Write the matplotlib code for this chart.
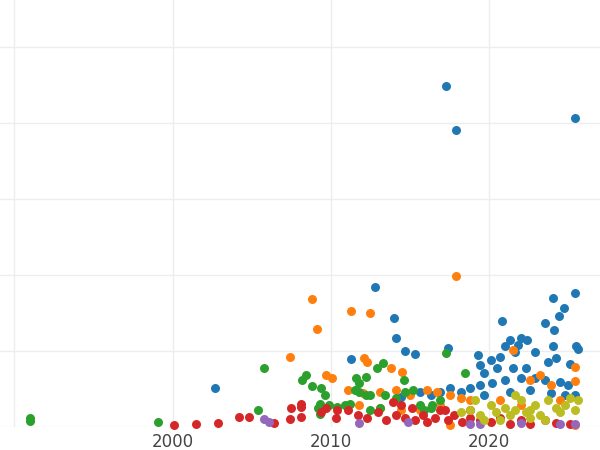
import matplotlib
matplotlib.use("Agg")
import matplotlib.pyplot as plt

blue_x = [2002.7,2017.3,2017.9,2025.4,2012.8,2014.0,2014.1,2011.3,2014.7,2015.3,2017.4,2020.8,2024.0,2025.4,2024.7,2024.4,2024.1,2023.5,2025.5,2025.6,2021.0,2021.3,2022.0,2022.4,2021.8,2019.3,2020.1,2020.7,2021.6,2022.9,2024.0,2024.2,2025.1,2019.4,2019.7,2020.5,2021.5,2022.3,2023.7,2018.2,2017.5,2018.8,2019.4,2020.2,2021.0,2022.0,2022.9,2023.5,2024.5,2025.0,2014.4,2015.6,2016.3,2016.9,2019.7,2021.3,2022.6,2023.9,2024.8,2025.4]
blue_y = [0.51,4.49,3.91,4.07,1.84,1.43,1.17,0.89,1.00,0.96,1.04,1.39,1.70,1.76,1.57,1.46,1.28,1.37,1.07,1.03,1.07,1.14,1.17,1.14,1.08,0.95,0.88,0.92,0.99,0.99,1.07,0.91,0.83,0.82,0.71,0.78,0.78,0.78,0.86,0.46,0.51,0.51,0.55,0.58,0.62,0.64,0.64,0.62,0.59,0.55,0.39,0.46,0.42,0.46,0.42,0.46,0.49,0.45,0.42,0.42]

orange_x = [2008.8,2009.1,2007.4,2009.7,2011.3,2012.5,2017.9,2012.1,2012.3,2013.8,2014.5,2011.1,2012.0,2013.1,2014.1,2015.0,2016.1,2016.7,2017.5,2018.2,2018.8,2021.5,2025.4,2025.4,2023.9,2023.2,2022.6,2020.7,2022.0,2024.5,2025.4,2017.5,2016.9,2015.6,2014.4,2013.1,2011.8,2010.1]
orange_y = [1.68,1.29,0.92,0.68,1.53,1.50,1.99,0.91,0.86,0.78,0.72,0.49,0.45,0.46,0.49,0.42,0.49,0.46,0.42,0.38,0.36,1.01,0.79,0.61,0.55,0.68,0.62,0.36,0.29,0.36,0.03,0.03,0.29,0.22,0.22,0.25,0.29,0.64]

green_x = [1991.0,1991.0,1999.1,2005.4,2005.8,2008.2,2008.4,2008.8,2009.4,2009.6,2009.2,2009.3,2010.4,2010.9,2011.2,2011.6,2011.8,2012.2,2012.9,2013.3,2014.6,2014.7,2015.2,2016.4,2017.3,2018.5,2011.8,2012.5,2013.4,2014.1,2015.6,2015.9,2016.3,2016.9,2013.1,2012.5,2011.5,2012.2,2009.3,2009.9]
green_y = [0.12,0.08,0.07,0.22,0.78,0.62,0.68,0.54,0.51,0.42,0.25,0.17,0.26,0.29,0.30,0.64,0.58,0.66,0.78,0.84,0.62,0.46,0.49,0.29,0.97,0.71,0.46,0.42,0.42,0.38,0.29,0.22,0.25,0.36,0.25,0.22,0.49,0.42,0.30,0.29]

red_x = [2000.1,2001.5,2002.9,2004.2,2004.8,2006.4,2007.5,2008.1,2008.1,2007.4,2008.1,2009.4,2009.7,2010.3,2010.4,2011.1,2011.7,2012.3,2013.0,2013.5,2014.1,2013.9,2014.7,2015.3,2015.8,2016.1,2016.6,2016.9,2017.4,2017.8,2018.3,2018.8,2019.4,2020.1,2020.7,2021.3,2022.0,2022.6,2023.5,2024.2,2025.1,2015.1,2014.4,2017.2,2018.8]
red_y = [0.03,0.04,0.05,0.13,0.13,0.05,0.25,0.30,0.26,0.11,0.13,0.20,0.25,0.12,0.22,0.22,0.16,0.12,0.20,0.09,0.16,0.33,0.12,0.09,0.16,0.07,0.12,0.22,0.09,0.16,0.07,0.12,0.09,0.07,0.12,0.04,0.09,0.04,0.09,0.05,0.04,0.25,0.29,0.22,0.22]

purple_x = [2005.8,2006.1,2011.8,2014.9,2018.8,2019.4,2022.0,2024.5,2025.4]
purple_y = [0.11,0.07,0.05,0.07,0.04,0.04,0.05,0.04,0.04]

olive_x = [2018.8,2019.4,2020.1,2020.4,2021.0,2021.3,2021.6,2022.0,2022.3,2022.6,2022.9,2023.2,2023.7,2024.2,2024.5,2024.8,2025.1,2025.6,2025.4,2023.5,2020.7,2019.7,2022.6,2019.1,2018.2,2021.6]
olive_y = [0.22,0.16,0.29,0.20,0.25,0.16,0.22,0.36,0.20,0.12,0.29,0.16,0.36,0.25,0.20,0.29,0.38,0.36,0.22,0.09,0.09,0.09,0.22,0.36,0.20,0.42]

fig = plt.figure(figsize=(6, 4.5), dpi=100)
ax = fig.add_axes([0, 0.051, 1, 0.949])
series = [(blue_x, blue_y, '#1f77b4'), (orange_x, orange_y, '#ff7f0e'),
          (green_x, green_y, '#2ca02c'), (red_x, red_y, '#d62728'),
          (purple_x, purple_y, '#9467bd'), (olive_x, olive_y, '#bcbd22')]
for xs, ys, c in series:
    ax.scatter(xs, ys, s=42, color=c, linewidths=0, clip_on=False, zorder=3)
ax.set_xlim(1989.1, 2027.0)
ax.set_ylim(0, 5.62)
ax.set_xticks([1990, 2000, 2010, 2020])
ax.set_xticklabels(['', '2000', '2010', '2020'])
ax.set_yticks([0, 1, 2, 3, 4, 5])
ax.set_yticklabels([])
ax.tick_params(length=0, labelsize=12, colors='#444444', pad=4)
ax.grid(True, color='#ededed', linewidth=1)
for s in ax.spines.values():
    s.set_visible(False)
ax.set_axisbelow(True)
fig.savefig('out.png', dpi=100)
